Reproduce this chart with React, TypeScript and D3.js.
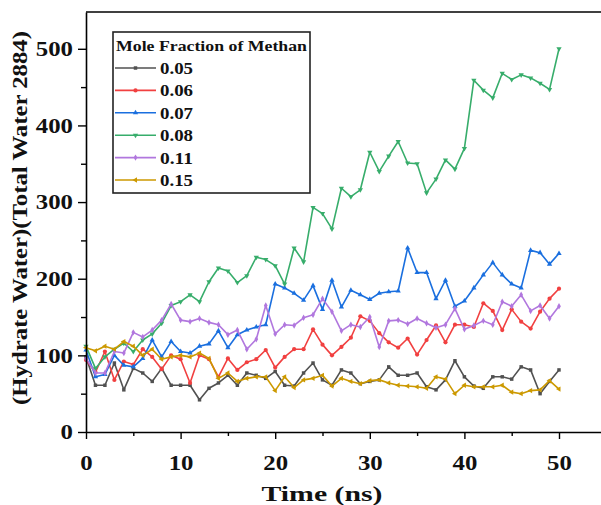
import React, { useEffect, useRef } from "react";
import * as d3 from "d3";

const W = 601;
const H = 505;

// time in ns, one sample per ns
const time = d3.range(0, 51);

const s005 = [98, 61, 61, 90, 55, 83, 77, 66, 83, 61, 61, 61, 42, 57, 64, 74, 61, 77, 74, 70, 79, 61, 60, 77, 90, 68, 61, 81, 77, 63, 66, 68, 85, 74, 74, 77, 59, 55, 68, 93, 72, 60, 57, 72, 72, 69, 85, 81, 50, 66, 81];
const s006 = [94, 78, 105, 68, 92, 88, 108, 98, 82, 100, 95, 64, 100, 95, 72, 96, 81, 91, 95, 107, 84, 98, 108, 108, 134, 114, 100, 111, 123, 151, 145, 129, 117, 110, 122, 101, 120, 139, 117, 140, 140, 137, 168, 158, 133, 160, 144, 135, 157, 174, 187];
const s007 = [107, 72, 75, 100, 87, 85, 96, 120, 98, 118, 105, 103, 112, 115, 132, 110, 127, 133, 137, 140, 193, 188, 181, 172, 191, 160, 198, 163, 185, 179, 173, 181, 183, 184, 240, 208, 208, 174, 198, 164, 171, 188, 205, 221, 205, 193, 188, 237, 234, 219, 233];
const s008 = [112, 83, 98, 108, 116, 105, 120, 128, 142, 165, 170, 179, 170, 196, 214, 210, 195, 204, 228, 225, 217, 193, 240, 222, 293, 285, 265, 318, 307, 316, 365, 340, 360, 379, 351, 350, 312, 330, 355, 343, 370, 459, 446, 436, 468, 460, 466, 462, 455, 447, 500];
const s011 = [96, 77, 77, 105, 103, 130, 124, 133, 146, 167, 146, 144, 148, 143, 140, 127, 133, 108, 121, 165, 128, 140, 139, 149, 153, 174, 157, 132, 140, 137, 150, 111, 145, 146, 141, 148, 142, 136, 140, 161, 134, 139, 145, 140, 170, 164, 179, 158, 165, 148, 164];
const s015 = [110, 106, 112, 108, 118, 112, 100, 108, 95, 98, 100, 98, 103, 96, 70, 77, 66, 70, 72, 72, 54, 72, 58, 68, 70, 74, 60, 70, 66, 63, 67, 68, 64, 61, 60, 59, 57, 72, 69, 50, 61, 59, 59, 59, 61, 52, 50, 54, 55, 67, 56];

const seriesNames = ["0.05", "0.06", "0.07", "0.08", "0.11", "0.15"];
const seriesValues = [s005, s006, s007, s008, s011, s015];
const seriesColors = ["#515151", "#F14040", "#1A6FDF", "#37AD6B", "#B177DE", "#CC9900"];

const xTicks = [0, 10, 20, 30, 40, 50];
const xMinor = [5, 15, 25, 35, 45];
const yTicks = [0, 100, 200, 300, 400, 500];
const yMinor = [50, 150, 250, 350, 450];

const FONT = "'Liberation Serif', 'Times New Roman', serif";

// square, circle, up triangle, down triangle, diamond, left triangle
function markerPath(i: number) {
  const shapes = [
    d3.symbolSquare,
    d3.symbolCircle,
    d3.symbolTriangle,
    d3.symbolTriangle,
    d3.symbolDiamond,
    d3.symbolTriangle,
  ];
  return d3.symbol().type(shapes[i]).size(i === 1 ? 14 : 12)();
}
const markerRotate = [0, 0, 0, 180, 0, -90];

export default function App() {
  const ref = useRef<SVGSVGElement>(null);

  useEffect(() => {
    const svg = d3.select(ref.current);
    svg.selectAll("*").remove();

    const x = d3.scaleLinear().domain([0, 55]).range([86, 606.3]);
    const y = d3.scaleLinear().domain([0, 548]).range([432, 12]);

    svg.append("rect").attr("width", W).attr("height", H).attr("fill", "#fff");

    // top frame
    svg
      .append("line")
      .attr("x1", x(0))
      .attr("x2", x(55))
      .attr("y1", y(548))
      .attr("y2", y(548))
      .attr("stroke", "#000")
      .attr("stroke-width", 1.6);

    // series
    const line = d3
      .line<number>()
      .x((d, i) => x(time[i]))
      .y((d) => y(d));

    seriesValues.forEach((vals, si) => {
      const g = svg.append("g");
      g.append("path")
        .attr("d", line(vals))
        .attr("fill", "none")
        .attr("stroke", seriesColors[si])
        .attr("stroke-width", 1.6)
        .attr("stroke-linejoin", "round");
      g.selectAll("path.mk")
        .data(vals)
        .enter()
        .append("path")
        .attr("class", "mk")
        .attr("d", markerPath(si))
        .attr("transform", (d, i) => "translate(" + x(time[i]) + "," + y(d) + ") rotate(" + markerRotate[si] + ")")
        .attr("fill", seriesColors[si]);
    });

    // x axis
    const xAxis = svg.append("g").attr("transform", "translate(0," + y(0) + ")");
    xAxis.call(
      d3.axisBottom(x).tickValues(xTicks).tickSize(7).tickSizeOuter(0).tickPadding(16).tickFormat(d3.format("d"))
    );
    svg
      .append("g")
      .attr("transform", "translate(0," + y(0) + ")")
      .call(d3.axisBottom(x).tickValues(xMinor).tickSize(4).tickSizeOuter(0).tickFormat(() => ""))
      .select(".domain")
      .remove();

    // y axis
    const yAxis = svg.append("g").attr("transform", "translate(" + x(0) + ",0)");
    yAxis.call(d3.axisLeft(y).tickValues(yTicks).tickSize(8).tickSizeOuter(0).tickPadding(5).tickFormat(d3.format("d")));
    svg
      .append("g")
      .attr("transform", "translate(" + x(0) + ",0)")
      .call(d3.axisLeft(y).tickValues(yMinor).tickSize(5).tickSizeOuter(0).tickFormat(() => ""))
      .select(".domain")
      .remove();

    svg.selectAll(".domain").attr("stroke-width", 1.6);
    svg.selectAll(".tick line").attr("stroke-width", 1.4);
    svg
      .selectAll<SVGTextElement, number>(".tick text")
      .attr("font-family", FONT)
      .attr("font-weight", "bold")
      .attr("font-size", 21)
      .attr("fill", "#111")
      .attr("lengthAdjust", "spacingAndGlyphs")
      .attr("textLength", function () {
        return (this.textContent || "").length * 12.4;
      });

    // axis titles
    svg
      .append("text")
      .attr("x", 322)
      .attr("y", 501)
      .attr("text-anchor", "middle")
      .attr("font-family", FONT)
      .attr("font-weight", "bold")
      .attr("font-size", 21)
      .attr("fill", "#111")
      .attr("lengthAdjust", "spacingAndGlyphs")
      .attr("textLength", 121)
      .text("Time (ns)");

    svg
      .append("text")
      .attr("transform", "translate(27," + 218 + ") rotate(-90)")
      .attr("text-anchor", "middle")
      .attr("font-family", FONT)
      .attr("font-weight", "bold")
      .attr("font-size", 21)
      .attr("fill", "#111")
      .attr("lengthAdjust", "spacingAndGlyphs")
      .attr("textLength", 374)
      .text("(Hydrate Water)(Total Water 2884)");

    // legend
    const lg = svg.append("g");
    lg.append("rect")
      .attr("x", 113)
      .attr("y", 32)
      .attr("width", 197)
      .attr("height", 161)
      .attr("fill", "#fff")
      .attr("stroke", "#222")
      .attr("stroke-width", 1.6);
    lg.append("text")
      .attr("x", 116)
      .attr("y", 51)
      .attr("font-family", FONT)
      .attr("font-weight", "bold")
      .attr("font-size", 15)
      .attr("fill", "#111")
      .attr("lengthAdjust", "spacingAndGlyphs")
      .attr("textLength", 191)
      .text("Mole Fraction of Methan");
    seriesNames.forEach((name, i) => {
      const cy = 68 + i * 22.4;
      lg.append("line")
        .attr("x1", 115)
        .attr("x2", 156)
        .attr("y1", cy)
        .attr("y2", cy)
        .attr("stroke", seriesColors[i])
        .attr("stroke-width", 1.6);
      lg.append("path")
        .attr("d", markerPath(i))
        .attr("transform", "translate(135.5," + cy + ") rotate(" + markerRotate[i] + ")")
        .attr("fill", seriesColors[i]);
      lg.append("text")
        .attr("x", 160)
        .attr("y", cy + 6)
        .attr("font-family", FONT)
        .attr("font-weight", "bold")
        .attr("font-size", 17)
        .attr("fill", "#111")
        .attr("lengthAdjust", "spacingAndGlyphs")
        .attr("textLength", 33)
        .text(name);
    });
  }, []);

  return (
    <svg
      ref={ref}
      width={W}
      height={H}
      style={{ position: "absolute", left: 0, top: 0, display: "block" }}
    />
  );
}
